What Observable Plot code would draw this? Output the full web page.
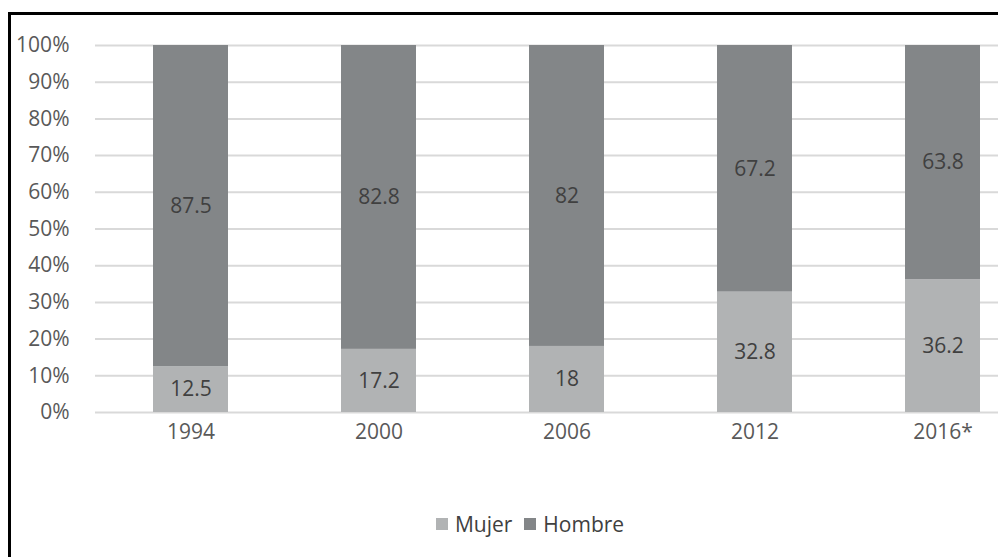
<!DOCTYPE html>
<html>
<head>
<meta charset="utf-8">
<script src="https://cdn.jsdelivr.net/npm/d3@7"></script>
<script src="https://cdn.jsdelivr.net/npm/@observablehq/plot@0.6"></script>
<style>
  body { margin: 0; background: #fff; }
  #wrap { position: relative; width: 998px; height: 557px; overflow: hidden; background: #fff; font-family: "Open Sans", sans-serif; }
  #frame { position: absolute; left: 8px; top: 12px; width: 1100px; height: 700px; border: 3px solid #000; box-sizing: border-box; }
  #chart { position: absolute; left: 0; top: 0; width: 1040px; }
  #chart svg { max-width: none !important; }
  #legend { position: absolute; top: 508px; left: 0; width: 998px; text-align: center; font-size: 21px; color: #404040; padding-left: 62px; box-sizing: border-box; }
  #legend span.item { display: inline-flex; align-items: center; margin: 0 6px; }
  #legend span.sw { display: inline-block; width: 12px; height: 12px; margin-right: 7px; }
</style>
</head>
<body>
<div id="wrap">
  <div id="frame"></div>
  <div id="chart"></div>
  <div id="legend"></div>
</div>
<script>
const years = ["1994", "2000", "2006", "2012", "2016*"];
const mujer = [12.5, 17.2, 18, 32.8, 36.2];
const hombre = [87.5, 82.8, 82, 67.2, 63.8];
const seriesNames = ["Mujer", "Hombre"];
const seriesColors = ["#b1b3b4", "#838688"];
const yTicks = [0, 10, 20, 30, 40, 50, 60, 70, 80, 90, 100];

const data = [];
years.forEach((y, i) => {
  data.push({year: y, sexo: "Mujer", value: mujer[i]});
  data.push({year: y, sexo: "Hombre", value: hombre[i]});
});

const chart = Plot.plot({
  width: 1040,
  height: 450,
  marginLeft: 95,
  marginRight: 2.5,
  marginTop: 45,
  marginBottom: 38,
  style: {fontFamily: "'Open Sans', sans-serif", fontSize: "21px", color: "#595959", background: "transparent", maxWidth: "none"},
  x: {domain: years, paddingInner: 0.6, paddingOuter: 0.3, label: null},
  y: {domain: [0, 100], label: null},
  color: {domain: seriesNames, range: seriesColors},
  marks: [
    Plot.ruleY(yTicks, {stroke: "#d9d9d9", strokeWidth: 2}),
    Plot.barY(data, Plot.stackY({x: "year", y: "value", fill: "sexo", order: seriesNames})),
    Plot.text(data, Plot.stackY({x: "year", y: "value", z: "sexo", order: seriesNames, text: d => String(d.value), fill: "#404040", fontSize: 21})),
    Plot.axisY(yTicks, {tickSize: 0, tickPadding: 26, tickFormat: d => d + "%", fontSize: 21, fill: "#595959"}),
    Plot.axisX({tickSize: 0, tickPadding: 12, fontSize: 21, fill: "#595959"})
  ]
});
document.getElementById("chart").appendChild(chart);

const legend = document.getElementById("legend");
seriesNames.forEach((n, i) => {
  const item = document.createElement("span");
  item.className = "item";
  const sw = document.createElement("span");
  sw.className = "sw";
  sw.style.background = seriesColors[i];
  item.appendChild(sw);
  item.appendChild(document.createTextNode(n));
  legend.appendChild(item);
});
</script>
</body>
</html>
